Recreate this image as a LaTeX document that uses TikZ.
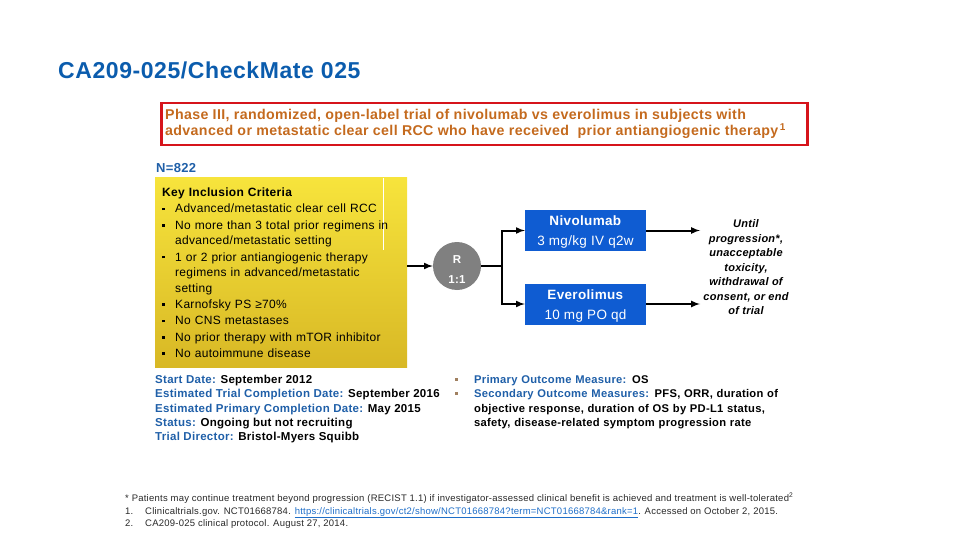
\documentclass[tikz,border=0pt]{standalone}
\usepackage{fontspec}
\setmainfont{Liberation Sans}[LetterSpace=2.5]
\usetikzlibrary{positioning}

\definecolor{titleblue}{RGB}{11,92,173}
\definecolor{labelblue}{RGB}{31,95,168}
\definecolor{scopered}{RGB}{214,20,27}
\definecolor{scopetext}{RGB}{196,106,30}
\definecolor{yellowtop}{RGB}{247,228,60}
\definecolor{yellowbot}{RGB}{216,184,37}
\definecolor{armblue}{RGB}{15,92,210}
\definecolor{randgray}{RGB}{128,128,128}
\definecolor{dotbrown}{RGB}{160,128,96}
\definecolor{notegray}{RGB}{40,40,40}
\definecolor{linkblue}{RGB}{30,110,200}

\newcommand\critem[1]{\par\noindent\hangindent=13pt\hangafter=1\makebox[13pt][l]{\rule[2.6pt]{2.6pt}{2.6pt}}#1}
\newcommand\outitem[1]{\par\noindent\hangindent=19pt\hangafter=1\makebox[19pt][l]{\textcolor{dotbrown}{\rule[2.8pt]{3pt}{3pt}}}#1}
\newcommand\nl{\hfil\break}

\begin{document}
\begin{tikzpicture}[x=1pt,y=-1pt,>=latex]
  \tikzset{
    arm/.style={fill=armblue,minimum width=121,minimum height=41,inner sep=0pt},
    armtext/.style={text=white,align=center,inner sep=0pt,yshift=-2pt,font=\fontsize{13.5}{20}\selectfont},
    flow/.style={line width=2pt,->},
    info/.style={anchor=north west,inner sep=0pt,align=left,font=\fontsize{11.5}{14.3}\selectfont\bfseries}
  }
  \useasboundingbox (0,0) rectangle (960,540);

  \node[anchor=west,inner sep=0pt,text=titleblue,font=\fontsize{23}{26}\selectfont\bfseries] (title) at (58,70) {CA209-025/CheckMate 025};

  % study scope
  \node[draw=scopered,line width=2.5pt,minimum width=646,minimum height=42,anchor=north west,inner sep=0pt] (scope) at (160,102) {};
  \node[anchor=north west,inner sep=0pt,align=left,text=scopetext,font=\fontsize{14.2}{15}\selectfont\bfseries] (scopetxt) at (165,109)
    {Phase III, randomized, open-label trial of nivolumab vs everolimus in subjects with\\
     advanced or metastatic clear cell RCC who have received\ \ prior antiangiogenic therapy\textsuperscript{\,1}};

  \node[anchor=west,inner sep=0pt,text=labelblue,font=\fontsize{13}{14}\selectfont\bfseries] (n) at (156,168) {N=822};

  % key inclusion criteria
  \node[anchor=north west,inner sep=0pt,minimum width=252,minimum height=190,top color=yellowtop,bottom color=yellowbot] (critbox) at (155,177) {};
  \draw[white,line width=0.6pt] (383,178) -- (383,250);
  \node[anchor=north west,inner sep=0pt,text width=240,font=\fontsize{12}{15.5}\selectfont] (crit) at (162,187.5)
    {\parskip=0.9pt\noindent\textbf{Key Inclusion Criteria}
     \critem{Advanced/metastatic clear cell RCC}
     \critem{No more than 3 total prior regimens in\nl advanced/metastatic setting}
     \critem{1 or 2 prior antiangiogenic therapy\nl regimens in advanced/metastatic\nl setting}
     \critem{Karnofsky PS ≥70\%}
     \critem{No CNS metastases}
     \critem{No prior therapy with mTOR inhibitor}
     \critem{No autoimmune disease}\par};

  % randomization and arms
  \node[circle,fill=randgray,minimum size=48,inner sep=0pt,
        label={[text=white,align=center,inner sep=0pt,yshift=-3.5pt,font=\fontsize{11.5}{20}\selectfont\bfseries]center:R\\1:1}] (rand) at (457,266) {};
  \node[arm,label={[armtext]center:\textbf{Nivolumab}\\3 mg/kg IV q2w}] (nivo) at (585.5,230.5) {};
  \node[arm,label={[armtext]center:\textbf{Everolimus}\\10 mg PO qd}] (evero) at (585.5,304) {};
  \coordinate (split) at (502,266);
  \coordinate (nivoend) at (700,230.5);
  \coordinate (everoend) at (700,304);
  \node[align=center,inner sep=0pt,font=\fontsize{11}{14.5}\selectfont\bfseries\itshape] (until) at (746,267.5)
    {Until\\progression*,\\unacceptable\\toxicity,\\withdrawal of\\consent, or end\\of trial};

  \draw[flow] (critbox.east |- rand.west) -- (rand.west);
  \draw[line width=2pt] (rand.east) -- (split);
  \draw[flow] (split) |- (nivo.west);
  \draw[flow] (split) |- (evero.west);
  \draw[flow] (nivo.east) -- (nivoend);
  \draw[flow] (evero.east) -- (everoend);

  % trial details
  \node[info] (dates) at (155,375)
    {\textcolor{labelblue}{Start Date:} September 2012\\
     \textcolor{labelblue}{Estimated Trial Completion Date:} September 2016\\
     \textcolor{labelblue}{Estimated Primary Completion Date:} May 2015\\
     \textcolor{labelblue}{Status:} Ongoing but not recruiting\\
     \textcolor{labelblue}{Trial Director:} Bristol-Myers Squibb};
  \node[anchor=north west,inner sep=0pt,text width=340,font=\fontsize{11.2}{14.3}\selectfont\bfseries] (outcomes) at (455,369)
    {\outitem{\textcolor{labelblue}{Primary Outcome Measure:} OS}
     \outitem{\textcolor{labelblue}{Secondary Outcome Measures:} PFS, ORR, duration of\nl objective response, duration of OS by PD-L1 status,\nl safety, disease-related symptom progression rate}\par};

  % footnotes
  \node[anchor=north west,inner sep=0pt,align=left,text=notegray,font=\fontsize{9.5}{12.5}\selectfont] (notes) at (125,493)
    {* Patients may continue treatment beyond progression (RECIST 1.1) if investigator-assessed clinical benefit is achieved and treatment is well-tolerated\textsuperscript{2}\\
     \makebox[20pt][l]{1.}Clinicaltrials.gov. NCT01668784. \textcolor{linkblue}{\underline{https://clinicaltrials.gov/ct2/show/NCT01668784?term=NCT01668784\&rank=1}}. Accessed on October 2, 2015.\\
     \makebox[20pt][l]{2.}CA209-025 clinical protocol. August 27, 2014.};
\end{tikzpicture}
\end{document}
